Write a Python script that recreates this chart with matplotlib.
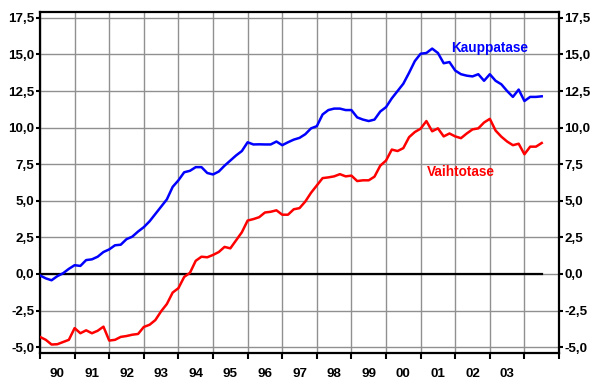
import numpy as np
import matplotlib
matplotlib.use('agg')
import matplotlib.pyplot as plt
from matplotlib.ticker import FixedLocator, FuncFormatter

plt.rcParams['font.family'] = ['Liberation Sans', 'DejaVu Sans']
matplotlib.rc('font', size=9.6, weight='bold')

# Balances as % of GDP, sampled every second month starting Jan 1990
start_year = 1990
step_months = 2

kauppatase = [
    -0.1, -0.3, -0.43, -0.15, 0.05, 0.35, 0.6, 0.55, 0.95, 1.0,
    1.18, 1.5, 1.68, 1.96, 2.0, 2.38, 2.55, 2.9, 3.2, 3.6,
    4.1, 4.6, 5.1, 5.95, 6.4, 6.95, 7.05, 7.3, 7.3, 6.9,
    6.8, 7.0, 7.4, 7.75, 8.1, 8.4, 9.0, 8.85, 8.86, 8.85,
    8.85, 9.05, 8.8, 9.0, 9.18, 9.3, 9.55, 9.95, 10.1, 10.9,
    11.2, 11.3, 11.3, 11.2, 11.2, 10.7, 10.55, 10.45, 10.55, 11.1,
    11.4, 12.0, 12.5, 13.0, 13.75, 14.55, 15.05, 15.1, 15.4, 15.1,
    14.4, 14.48, 13.9, 13.65, 13.55, 13.5, 13.65, 13.2, 13.65, 13.2,
    12.96, 12.5, 12.1, 12.6, 11.82, 12.1, 12.1, 12.14,
]

vaihtotase = [
    -4.3, -4.5, -4.82, -4.8, -4.65, -4.5, -3.7, -4.05, -3.85, -4.05,
    -3.88, -3.6, -4.55, -4.5, -4.3, -4.24, -4.15, -4.1, -3.62, -3.47,
    -3.15, -2.55, -2.05, -1.27, -0.97, -0.2, 0.08, 0.9, 1.18, 1.14,
    1.3, 1.5, 1.85, 1.75, 2.3, 2.85, 3.65, 3.75, 3.88, 4.2,
    4.25, 4.35, 4.05, 4.05, 4.42, 4.5, 4.95, 5.55, 6.05, 6.55,
    6.6, 6.67, 6.82, 6.67, 6.72, 6.35, 6.4, 6.4, 6.65, 7.4,
    7.75, 8.5, 8.4, 8.6, 9.35, 9.7, 9.93, 10.45, 9.75, 9.95,
    9.4, 9.6, 9.4, 9.28, 9.6, 9.88, 9.95, 10.35, 10.6, 9.8,
    9.38, 9.05, 8.8, 8.9, 8.18, 8.7, 8.7, 8.95,
]

year_labels = ['90', '91', '92', '93', '94', '95', '96', '97',
               '98', '99', '00', '01', '02', '03']
y_ticks = [-5.0, -2.5, 0.0, 2.5, 5.0, 7.5, 10.0, 12.5, 15.0, 17.5]

t = start_year + np.arange(len(kauppatase)) * step_months / 12.0

fig = plt.figure(figsize=(5.92, 3.79), dpi=100)
ax = fig.add_axes([0.0676, 0.0686, 0.8767, 0.8997])

ax.plot([t[0], t[-1]], [0, 0], color='black', lw=1.6, zorder=3)
ax.plot(t, kauppatase, color='#0000ff', lw=1.8, zorder=4)
ax.plot(t, vaihtotase, color='#ff0000', lw=1.8, zorder=4)

ax.text(2003.0, 15.44, 'Kauppatase', color='#0000ff', fontsize=9.8,
        ha='center', va='center')
ax.text(2002.15, 6.95, 'Vaihtotase', color='#ff0000', fontsize=9.8,
        ha='center', va='center')

ax.set_xlim(1990, 2005)
ax.set_ylim(-5.4, 17.9)

# year boundaries carry grid and ticks, labels sit mid-year
ax.xaxis.set_major_locator(FixedLocator(np.arange(1990, 2006)))
ax.xaxis.set_minor_locator(FixedLocator(np.arange(1990, 2004) + 0.5))
ax.xaxis.set_major_formatter(FuncFormatter(lambda v, p: ''))
ax.xaxis.set_minor_formatter(FuncFormatter(lambda v, p: year_labels[int(v) - 1990]))
ax.tick_params(axis='x', which='major', length=4, width=1.5, direction='out')
ax.tick_params(axis='x', which='minor', length=0, pad=11)

ax.set_yticks(y_ticks)
ax.yaxis.set_major_formatter(FuncFormatter(lambda v, p: ('%.1f' % v).replace('.', ',')))
ax.tick_params(axis='y', left=True, right=True, labelleft=True, labelright=True,
               length=3, width=1.5, direction='out', pad=1)

ax.grid(True, which='major', color='#909090', lw=1.0)
ax.set_axisbelow(True)
for s in ax.spines.values():
    s.set_linewidth(1.6)

plt.savefig('out.png', dpi=100)
plt.close()
